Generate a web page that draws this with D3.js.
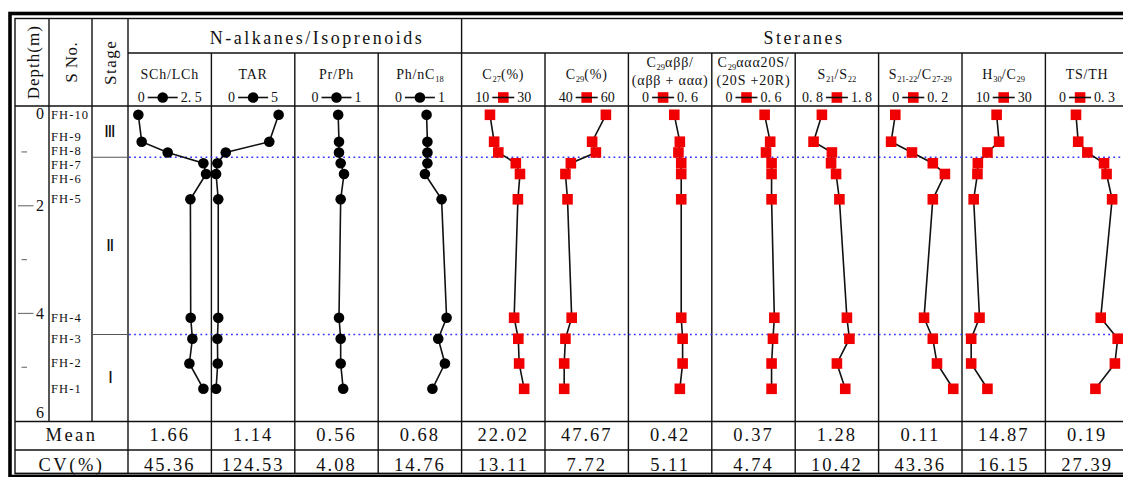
<!DOCTYPE html>
<html lang="en">
<head>
<meta charset="UTF-8">
<title>FH profile: N-alkanes / Steranes</title>
<style>
  body { margin: 0; background: #fff; }
  svg text { font-family: "Liberation Serif", "Times New Roman", serif; fill: #111; }
  .rule { stroke: #111; stroke-width: 1.4; fill: none; }
  .tick { stroke: #777; stroke-width: 1.2; }
  .stage-break { stroke: #555; stroke-width: 1.1; }
  .divider { stroke: #3434ff; stroke-width: 1.6; stroke-dasharray: 1.8 3.3; }
  .trace { fill: none; stroke: #111; stroke-width: 1.6; }
  .dot { fill: #000; }
  .sq { fill: #f00000; }
</style>
</head>
<body>
<svg id="chart" width="1123" height="477"></svg>
<script src="https://d3js.org/d3.v7.min.js"></script>
<script>
// samples, top to bottom
const samples = ["FH-10", "FH-9", "FH-8", "FH-7", "FH-6", "FH-5", "FH-4", "FH-3", "FH-2", "FH-1"];
const sampleDepth = [0.31, 0.81, 1.01, 1.21, 1.41, 1.88, 4.08, 4.47, 4.93, 5.40];

const stageNames = ["Ⅲ", "Ⅱ", "Ⅰ"];
const stageBreaks = [1.10, 4.39];
const depthTicks = [1, 2, 3, 4, 5];
const depthLabels = [0, 2, 4, 6];

// per-column values (same order as samples)
const schLch = [0.31, 0.41, 1.19, 2.26, 2.34, 1.87, 1.88, 1.93, 1.84, 2.26];
const tar = [4.03, 3.47, 0.86, 0.36, 0.28, 0.41, 0.41, 0.36, 0.38, 0.28];
const prPh = [0.52, 0.53, 0.53, 0.55, 0.59, 0.55, 0.53, 0.55, 0.55, 0.58];
const phNC18 = [0.58, 0.59, 0.59, 0.59, 0.56, 0.76, 0.82, 0.72, 0.80, 0.65];
const c27 = [16.8, 17.8, 18.8, 23.0, 24.0, 23.5, 22.6, 23.6, 23.8, 25.0];
const c29 = [54.6, 51.3, 52.2, 46.2, 44.9, 45.4, 46.4, 44.9, 44.6, 44.6];
const c29abb = [0.33, 0.37, 0.36, 0.38, 0.38, 0.38, 0.38, 0.39, 0.39, 0.37];
const c29aaa = [0.38, 0.42, 0.39, 0.43, 0.43, 0.43, 0.45, 0.44, 0.43, 0.43];
const s21s22 = [1.12, 1.02, 1.24, 1.23, 1.29, 1.33, 1.42, 1.45, 1.30, 1.40];
const s2122c2729 = [0.040, 0.030, 0.080, 0.130, 0.159, 0.130, 0.109, 0.130, 0.140, 0.179];
const h30c29 = [18.3, 18.9, 16.1, 13.8, 13.7, 12.8, 14.2, 12.2, 12.2, 16.1];
const tsTh = [0.110, 0.118, 0.151, 0.211, 0.220, 0.240, 0.199, 0.260, 0.250, 0.180];

const titles = ["SCh/LCh", "TAR", "Pr/Ph", "Ph/nC_{18}", "C_{27}(%)", "C_{29}(%)",
  ["C_{29}αββ/", "(αββ + ααα)"], ["C_{29}ααα20S/", "(20S +20R)"],
  "S_{21}/S_{22}", "S_{21-22}/C_{27-29}", "H_{30}/C_{29}", "TS/TH"];
const domMin = [0, 0, 0, 0, 10, 40, 0, 0, 0.8, 0, 10, 0];
const domMax = [2.5, 5, 1, 1, 30, 60, 0.6, 0.6, 1.8, 0.2, 30, 0.3];
const minLabels = ["0", "0", "0", "0", "10", "40", "0", "0", "0. 8", "0", "10", "0"];
const maxLabels = ["2. 5", "5", "1", "1", "30", "60", "0. 6", "0. 6", "1. 8", "0. 2", "30", "0. 3"];
const markers = ["dot", "dot", "dot", "dot", "sq", "sq", "sq", "sq", "sq", "sq", "sq", "sq"];
const series = [schLch, tar, prPh, phNC18, c27, c29, c29abb, c29aaa, s21s22, s2122c2729, h30c29, tsTh];
const meanVals = ["1.66", "1.14", "0.56", "0.68", "22.02", "47.67", "0.42", "0.37", "1.28", "0.11", "14.87", "0.19"];
const cvVals = ["45.36", "124.53", "4.08", "14.76", "13.11", "7.72", "5.11", "4.74", "10.42", "43.36", "16.15", "27.39"];

const columns = titles.map((t, i) => ({
  title: Array.isArray(t) ? t : [t],
  domain: [domMin[i], domMax[i]],
  minLabel: minLabels[i], maxLabel: maxLabels[i],
  marker: markers[i], values: series[i],
  mean: meanVals[i], cv: cvVals[i]
}));

// layout
const svg = d3.select("#chart");
const L = 15, T = 18.5, B = 473.5, R = 1140;
const xDepth = 49, xSno = 92, x0 = 128, colW = 83.4;
const yGroup = 53, yHead = 106, yPlot = 421.5, yMean = 450;

const y = d3.scaleLinear().domain([0, 6]).range([98.1, 421.1]);
const colLeft = i => x0 + i * colW;

// writes "C_{27}(%)" style strings as tspans with subscripts
function rich(text, str) {
  const parts = str.split(/_\{([^}]*)\}/);
  let down = false;
  parts.forEach((p, k) => {
    if (!p) return;
    const ts = text.append("tspan").text(p);
    if (k % 2) {
      ts.attr("font-size", 8.5).attr("letter-spacing", 0).attr("dy", down ? 0 : 3);
      down = true;
    } else if (down) {
      ts.attr("dy", -3);
      down = false;
    }
  });
}

// frame
svg.append("rect").attr("x", 10).attr("y", 13.5).attr("width", 1140).attr("height", 463)
  .attr("fill", "none").attr("stroke", "#000").attr("stroke-width", 3.6);
svg.append("rect").attr("x", L).attr("y", T).attr("width", R - L).attr("height", B - T)
  .attr("class", "rule");

const hline = (y0, xa, xb) => svg.append("line").attr("class", "rule")
  .attr("x1", xa).attr("x2", xb).attr("y1", y0).attr("y2", y0);
const vline = (xv, ya, yb) => svg.append("line").attr("class", "rule")
  .attr("x1", xv).attr("x2", xv).attr("y1", ya).attr("y2", yb);

hline(yGroup, x0, R);
hline(yHead, L, R);
hline(yPlot, L, R);
hline(yMean, L, R);
vline(xDepth, T, yPlot);
vline(xSno, T, yPlot);
vline(x0, T, B);
d3.range(1, 13).forEach(i => vline(colLeft(i), i === 4 ? T : yGroup, B));

// group titles
const groupTitle = (txt, xc) => svg.append("text").attr("x", xc).attr("y", 44)
  .attr("text-anchor", "middle").attr("font-size", 18).attr("letter-spacing", 2.5).text(txt);
groupTitle("N-alkanes/Isoprenoids", 317);
groupTitle("Steranes", 804);

// left header cells
[["Depth(m)", (L + xDepth) / 2 + 1, 1], ["S No.", (xDepth + xSno) / 2 + 1, 0.5], ["Stage", (xSno + x0) / 2, 1.5]]
  .forEach(([txt, cx, ls]) => {
    svg.append("text")
      .attr("transform", `translate(${cx},${(T + yHead) / 2}) rotate(-90)`)
      .attr("text-anchor", "middle").attr("dominant-baseline", "central")
      .attr("font-size", 17).attr("letter-spacing", ls).text(txt);
  });

// depth axis
const depthG = svg.append("g");
depthG.selectAll("line").data(depthTicks).join("line")
  .attr("class", "tick")
  .attr("x1", d => d % 2 ? 21.5 : 18).attr("x2", d => d % 2 ? 27 : 33.5)
  .attr("y1", d => y(d)).attr("y2", d => y(d));
depthG.selectAll("text").data(depthLabels).join("text")
  .attr("x", 40).attr("text-anchor", "middle").attr("font-size", 16)
  .attr("y", d => Math.min(Math.max(y(d), yHead + 7), yPlot - 9))
  .attr("dominant-baseline", "central").text(d => d);

// sample labels, nudged apart where samples sit close together
const labelY = sampleDepth.map(d => y(d));
for (let pass = 0; pass < 10; pass++) {
  for (let k = 1; k < labelY.length; k++) {
    const gapNeed = 14 - (labelY[k] - labelY[k - 1]);
    if (gapNeed > 0) { labelY[k - 1] -= gapNeed / 2; labelY[k] += gapNeed / 2; }
  }
}
svg.append("g").selectAll("text").data(samples).join("text")
  .attr("x", 51).attr("y", (d, i) => labelY[i])
  .attr("dominant-baseline", "central")
  .attr("font-size", 12.5).attr("letter-spacing", 1.1).text(d => d);

// stages
const stageEdges = [yHead, ...stageBreaks.map(y), yPlot];
stageBreaks.forEach(b => {
  svg.append("line").attr("class", "stage-break")
    .attr("x1", xSno).attr("x2", x0).attr("y1", y(b)).attr("y2", y(b));
});
svg.append("g").selectAll("text").data(stageNames).join("text")
  .attr("x", (xSno + x0) / 2).attr("y", (d, i) => (stageEdges[i] + stageEdges[i + 1]) / 2)
  .attr("text-anchor", "middle").attr("dominant-baseline", "central")
  .attr("font-family", "'Noto Sans CJK JP', 'Noto Sans CJK SC', serif")
  .attr("font-weight", 300).attr("font-size", 17).text(d => d);

// stage dividers across data columns
stageBreaks.forEach(b => {
  svg.append("line").attr("class", "divider")
    .attr("x1", x0 + 1).attr("x2", R).attr("y1", y(b)).attr("y2", y(b));
});

// data columns
columns.forEach((col, i) => {
  const left = colLeft(i);
  const cx = left + colW / 2;
  const x = d3.scaleLinear().domain(col.domain).range([left, left + colW]);
  const g = svg.append("g");

  // title
  const base = col.title.length > 1 ? 67 : 79;
  col.title.forEach((line, k) => {
    const t = g.append("text").attr("x", cx).attr("y", base + k * 17.5)
      .attr("text-anchor", "middle").attr("font-size", 14).attr("letter-spacing", 0.8);
    rich(t, line);
  });

  // legend: min  -symbol-  max
  const ly = 102, sy = 97.5, gap = 3;
  const seg = col.marker === "dot" ? 30 : 22;
  const tMin = g.append("text").attr("y", ly).attr("font-size", 14).attr("text-anchor", "end").text(col.minLabel);
  const tMax = g.append("text").attr("y", ly).attr("font-size", 14).attr("text-anchor", "start").text(col.maxLabel);
  const wMin = tMin.node().getComputedTextLength();
  const wMax = tMax.node().getComputedTextLength();
  const start = cx - (wMin + wMax + seg + 2 * gap) / 2;
  const sc = start + wMin + gap + seg / 2;
  tMin.attr("x", start + wMin);
  tMax.attr("x", sc + seg / 2 + gap);
  const drawMarker = (sel, px, py) => col.marker === "dot"
    ? sel.append("circle").attr("class", "dot").attr("cx", px).attr("cy", py).attr("r", 5.3)
    : sel.append("rect").attr("class", "sq").attr("x", px - 5.3).attr("y", py - 5.3).attr("width", 10.6).attr("height", 10.6);
  if (col.marker === "dot") {
    g.append("line").attr("class", "trace").attr("x1", sc - seg / 2).attr("x2", sc + seg / 2).attr("y1", sy).attr("y2", sy);
    drawMarker(g, sc, sy);
  } else {
    drawMarker(g, sc, sy);
    g.append("line").attr("class", "trace").attr("x1", sc - seg / 2).attr("x2", sc + seg / 2).attr("y1", sy).attr("y2", sy);
  }

  // profile
  const pts = col.values.map((v, k) => ({ v, d: sampleDepth[k] }));
  g.append("path").attr("class", "trace")
    .attr("d", d3.line().x(p => x(p.v)).y(p => y(p.d))(pts));
  pts.forEach(p => drawMarker(g, x(p.v), y(p.d)));

  // statistics rows
  g.append("text").attr("x", cx).attr("y", 441).attr("text-anchor", "middle")
    .attr("font-size", 18.5).attr("letter-spacing", 2).text(col.mean);
  g.append("text").attr("x", cx).attr("y", 471).attr("text-anchor", "middle")
    .attr("font-size", 18.5).attr("letter-spacing", 2).text(col.cv);
});

svg.append("text").attr("x", (L + x0) / 2).attr("y", 441).attr("text-anchor", "middle")
  .attr("font-size", 18.5).attr("letter-spacing", 2.5).text("Mean");
svg.append("text").attr("x", (L + x0) / 2).attr("y", 471).attr("text-anchor", "middle")
  .attr("font-size", 18.5).attr("letter-spacing", 2.5).text("CV(%)");

// bottom rule redrawn over the CV digits, as in the source figure
hline(B, L, R);
</script>
</body>
</html>
